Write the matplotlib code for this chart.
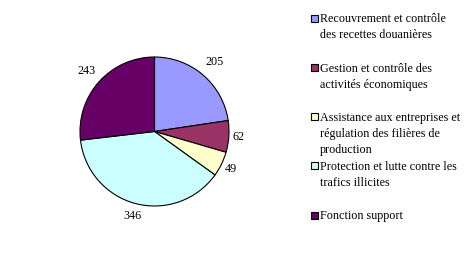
import matplotlib
matplotlib.use("Agg")
import matplotlib.pyplot as plt
import numpy as np
from matplotlib.patches import Rectangle

categories = [
    "Recouvrement et contrôle\ndes recettes douanières",
    "Gestion et contrôle des\nactivités économiques",
    "Assistance aux entreprises et\nrégulation des filières de\nproduction",
    "Protection et lutte contre les\ntrafics illicites",
    "Fonction support",
]
values = [205, 62, 49, 346, 243]
colors = ["#9999FF", "#993366", "#FFFFCC", "#CCFFFF", "#660066"]

plt.rcParams['font.family'] = ['Liberation Serif', 'DejaVu Serif']
FS = 8.7

W, H = 474, 264
fig = plt.figure(figsize=(W / 100, H / 100), dpi=100)
fig.patch.set_facecolor("white")

cx, cy, R = 154.5, 131.5, 74.5
ax = fig.add_axes([(cx - R) / W, (H - cy - R) / H, 2 * R / W, 2 * R / H])
wedges, _ = ax.pie(values, colors=colors, startangle=90, counterclock=False,
                   wedgeprops=dict(edgecolor="black", linewidth=0.8))
ax.set_xlim(-1, 1)
ax.set_ylim(-1, 1)
ax.axis("off")

label_r = [1.228, 1.125, 1.137, 1.172, 1.228]
for w, v, r in zip(wedges, values, label_r):
    ang = np.deg2rad((w.theta1 + w.theta2) / 2)
    ax.text(r * np.cos(ang), r * np.sin(ang), str(v), ha="center", va="center",
            fontsize=FS, clip_on=False)

# legend
top0, step, line_h = 18.0, 49.25, 16.0
for i, (lab, c) in enumerate(zip(categories, colors)):
    yc = top0 + i * step
    fig.patches.append(Rectangle((311 / W, 1 - (yc + 3.5) / H), 7 / W, 7 / H,
                                 transform=fig.transFigure, facecolor=c,
                                 edgecolor="black", linewidth=0.8))
    for j, line in enumerate(lab.split("\n")):
        fig.text(320 / W, 1 - (yc + j * line_h) / H, line, ha="left",
                 va="center_baseline", fontsize=FS)

fig.savefig("out.png", dpi=100, facecolor="white")
